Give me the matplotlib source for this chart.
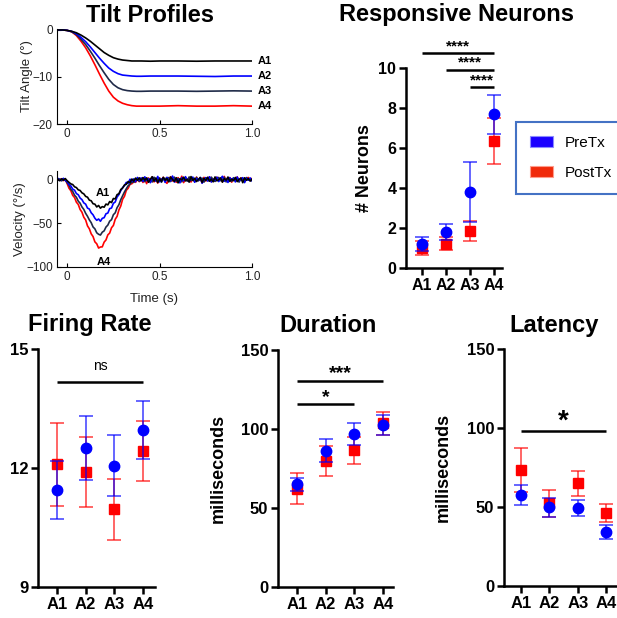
import matplotlib.pyplot as plt
from matplotlib.patches import Patch
import numpy as np

plt.rcParams['font.family'] = 'Liberation Sans'

W, H = 617, 618
fig = plt.figure(figsize=(W / 100, H / 100), dpi=100)
fig.patch.set_facecolor('white')

BLUE = '#0000ff'
RED = '#ff0000'
NAVY = '#1f2a48'

# ---------------- data ----------------
# tilt profiles (deg) sampled at tilt_t (s)
tilt_t = [-0.05, -0.025, 0.0, 0.025, 0.05, 0.075, 0.1, 0.125, 0.15, 0.175, 0.2,
          0.225, 0.25, 0.275, 0.3, 0.325, 0.35, 0.375, 0.4, 0.45, 0.5, 0.6,
          0.7, 0.8, 0.9, 1.0]
tilt_a1 = [0, 0, -0.1, -0.3, -0.6, -1.1, -1.7, -2.4, -3.2, -4.0, -4.8, -5.4, -5.9,
           -6.2, -6.4, -6.5, -6.6, -6.6, -6.6, -6.65, -6.6, -6.6, -6.65, -6.6, -6.6, -6.6]
tilt_a2 = [0, 0, -0.1, -0.3, -0.8, -1.6, -2.5, -3.6, -4.8, -6.0, -7.1, -8.1, -8.8,
           -9.3, -9.6, -9.7, -9.8, -9.85, -9.85, -9.8, -9.8, -9.8, -9.85, -9.9, -9.8, -9.8]
tilt_a3 = [0, 0, -0.1, -0.4, -1.0, -2.0, -3.1, -4.5, -6.0, -7.6, -9.1, -10.5, -11.6,
           -12.3, -12.7, -12.9, -13.0, -13.05, -13.05, -13.0, -13.0, -13.0, -13.05, -13.0, -12.95, -13.0]
tilt_a4 = [0, 0, -0.1, -0.4, -1.2, -2.4, -3.8, -5.5, -7.4, -9.4, -11.3, -13.0, -14.3,
           -15.1, -15.6, -15.9, -16.1, -16.2, -16.2, -16.2, -16.2, -16.1, -16.2, -16.2, -16.1, -16.2]

# velocity traces (deg/s), one sample every 10 ms from -0.05 s to 1.00 s
vel_t = np.linspace(-0.05, 1.0, 106)
vel_a1 = [0.5, -1.1, 0.9, -0.4, 1.3,
          -1.2, -3.0, -4.8, -5.5, -8.1, -9.0, -11.6, -12.3, -15.0, -16.2,
          -19.1, -20.0, -23.4, -24.1, -27.5, -28.0, -31.2, -29.5, -32.6, -30.8,
          -31.5, -27.9, -28.8, -25.0, -26.2, -21.5, -22.0, -17.1, -16.0, -11.2,
          -9.5, -6.0, -5.2, -2.1, -3.4, 0.8, -1.6, 1.9, -0.7, 2.2,
          -1.2, 2.5, -0.4, 1.8, -2.9, 0.6, 3.4, -1.5, 2.0, -3.2,
          0.9, -1.8, 2.7, -0.6, 1.4, -2.5, 3.0, 0.2, -1.9, 2.3,
          -3.6, 1.1, -0.2, 2.9, -1.4, 0.5, -2.7, 3.6, -0.8, 1.7,
          -2.1, 0.3, 2.4, -3.0, 1.5, -0.9, 2.8, -1.7, 0.7, -2.4,
          3.2, -1.3, 0.1, 2.0, -2.8, 1.2, -0.5, 3.1, -1.9, 0.8,
          -1.1, 2.6, -2.2, 0.4, 1.9, -3.4, 2.2, -0.7, 1.3, -1.6,
          0.6]
vel_a2 = [1.4, -0.8, 0.2, 1.6, -0.9,
          -2.0, -5.5, -7.1, -10.8, -12.0, -15.9, -17.2, -21.0, -22.8, -26.5,
          -28.0, -32.5, -33.6, -37.9, -40.2, -44.1, -46.5, -45.0, -47.6, -44.2,
          -43.5, -39.0, -38.2, -33.1, -32.4, -27.0, -25.5, -19.8, -17.0, -12.5,
          -9.1, -6.8, -3.0, -4.1, 0.6, -1.9, 1.0, -2.3, 2.6, -0.5,
          2.1, -2.0, 3.3, -0.9, 1.0, -3.4, 2.6, 0.3, -1.6, 3.8,
          -2.4, 0.7, 1.9, -3.0, 2.8, -0.5, -1.2, 4.2, -2.7, 1.1,
          0.2, -3.6, 2.4, -1.3, 3.5, -0.1, -2.2, 1.6, 3.0, -2.9,
          1.3, -0.8, 2.7, -4.0, 0.9, 2.0, -1.5, 3.4, -2.6, 0.4,
          -0.9, 2.9, -2.1, 1.4, 3.9, -1.8, 0.6, -3.1, 2.3, -0.4,
          1.7, -2.5, 3.1, -1.0, 0.5, 2.4, -3.3, 1.8, -0.6, 2.1,
          -1.3]
vel_a3 = [-0.6, 1.0, -1.3, 0.5, -0.2,
          -3.5, -6.2, -11.0, -13.4, -17.8, -20.1, -24.6, -26.9, -31.2, -34.0,
          -38.5, -41.9, -46.0, -49.2, -54.1, -56.3, -60.8, -62.5, -63.4, -60.1,
          -58.6, -54.2, -52.0, -47.5, -45.8, -40.1, -37.9, -32.0, -28.6, -22.9,
          -18.4, -14.0, -10.3, -6.9, -5.0, -2.4, -3.1, -0.6, 1.2, -1.8,
          -0.7, 1.6, -2.3, 2.2, -0.2, 1.1, -2.6, 2.9, -1.1, 0.4,
          2.0, -2.9, 0.6, 1.7, -1.0, 2.5, -2.1, 0.9, 3.0, -1.6,
          1.4, -0.6, -2.4, 2.1, 0.8, -1.7, 3.2, -0.9, 1.0, -2.3,
          2.6, -1.2, 0.3, 1.9, -2.8, 2.4, -0.4, -1.4, 3.0, 0.1,
          -2.0, 1.5, 2.6, -1.1, -0.3, 2.8, -2.5, 1.2, 0.5, -1.8,
          2.3, -0.8, 1.6, -2.7, 0.9, 1.3, -1.9, 2.5, -0.2, 1.1,
          -0.9]
vel_a4 = [0.8, -0.5, 1.2, -1.0, 0.3,
          -4.5, -9.8, -12.6, -17.9, -20.4, -25.8, -28.3, -34.1, -37.2, -43.0,
          -46.1, -52.9, -56.2, -62.0, -65.1, -71.2, -73.4, -78.3, -77.1, -76.9,
          -71.5, -69.0, -63.2, -61.1, -55.0, -52.4, -45.3, -42.0, -34.6, -30.1,
          -22.4, -19.0, -12.1, -9.8, -5.2, -4.6, -1.8, -3.0, 0.5, -2.2,
          1.5, -3.1, 0.8, -4.5, 2.0, -1.2, 3.1, -2.5, 0.4, -3.8,
          1.9, -0.7, 2.8, -2.0, -4.2, 1.1, 3.5, -1.5, 0.6, -2.9,
          2.4, -1.0, 4.0, -3.3, 0.9, -0.4, 2.2, -2.6, 1.3, -1.9,
          3.0, -0.8, 1.6, -3.5, 2.7, -1.4, 0.2, 3.3, -2.2, 1.0,
          -1.6, 2.9, -0.3, 1.8, -2.4, 3.8, -1.1, 0.7, 2.5, -2.8,
          1.2, -0.6, 3.2, -1.7, 2.1, 0.4, -2.0, 1.5, 2.6, -0.9,
          1.4]

groups = ['A1', 'A2', 'A3', 'A4']

neur_pre = [1.18, 1.8, 3.8, 7.68]
neur_pre_sem = [0.35, 0.38, 1.52, 0.98]
neur_post = [1.0, 1.22, 1.87, 6.35]
neur_post_sem = [0.36, 0.33, 0.5, 1.17]

rate_pre = [11.44, 12.51, 12.06, 12.96]
rate_pre_sem = [0.73, 0.81, 0.77, 0.73]
rate_post = [12.09, 11.89, 10.96, 12.43]
rate_post_sem = [1.04, 0.88, 0.77, 0.76]

dur_pre = [65.1, 86.2, 96.6, 102.5]
dur_pre_sem = [4.2, 7.2, 6.9, 6.3]
dur_post = [62.3, 79.9, 86.6, 103.5]
dur_post_sem = [9.7, 9.4, 8.6, 7.5]

lat_pre = [57.4, 49.8, 49.6, 34.4]
lat_pre_sem = [6.3, 5.9, 5.1, 4.5]
lat_post = [73.4, 52.3, 64.9, 46.0]
lat_post_sem = [14.1, 8.5, 8.1, 5.7]


def px_axes(l, t, r, b):
    return fig.add_axes([l / W, 1 - b / H, (r - l) / W, (b - t) / H])


def trace_style(ax):
    for s in ['top', 'right']:
        ax.spines[s].set_visible(False)
    for s in ['left', 'bottom']:
        ax.spines[s].set_linewidth(0.8)
    ax.tick_params(direction='in', length=3, width=0.8, labelsize=8.5,
                   labelcolor='#222222', pad=3)
    ax.set_xlim(-0.055, 1.0)
    ax.set_xticks([0, 0.5, 1.0])
    ax.set_xticklabels(['0', '0.5', '1.0'])


# ---------------- tilt profiles ----------------
ax = px_axes(57, 29, 252, 124)
trace_style(ax)
for y, c in [(tilt_a4, RED), (tilt_a3, NAVY), (tilt_a2, BLUE), (tilt_a1, 'k')]:
    ax.plot(tilt_t, y, color=c, lw=1.2)
for y, lab in [(tilt_a1, 'A1'), (tilt_a2, 'A2'), (tilt_a3, 'A3'), (tilt_a4, 'A4')]:
    ax.text(1.03, y[-1], lab, fontsize=8, fontweight='bold', va='center',
            ha='left', clip_on=False)
ax.set_ylim(-20, 0.2)
ax.set_yticks([-20, -10, 0])
ax.set_ylabel('Tilt Angle (°)', fontsize=9.5, color='#222222')
ax.yaxis.set_label_coords(-0.125, 0.5)
fig.text(150 / W, 1 - 16 / H, 'Tilt Profiles', fontsize=17, fontweight='bold',
         ha='center', va='center')

# ---------------- velocity ----------------
ax = px_axes(57, 171, 252, 267)
trace_style(ax)
for y, c in [(vel_a4, RED), (vel_a3, NAVY), (vel_a2, BLUE), (vel_a1, 'k')]:
    ax.plot(vel_t, y, color=c, lw=1.2)
ax.set_ylim(-100, 10)
ax.set_yticks([-100, -50, 0])
ax.text(0.19, -15, 'A1', fontsize=8, fontweight='bold', ha='center', va='center')
ax.text(0.2, -94, 'A4', fontsize=8, fontweight='bold', ha='center', va='center')
ax.set_ylabel('Velocity (°/s)', fontsize=9.5, color='#222222')
ax.yaxis.set_label_coords(-0.16, 0.5)
ax.set_xlabel('Time (s)', fontsize=9.5, color='#222222', labelpad=7)


# ---------------- dot panels ----------------
def dot_panel(box, xlim, pre, pre_sem, post, post_sem, ylim, yticks, ylabel,
              title, title_xy, tick_fs=12, lpad=4):
    ax = px_axes(*box)
    x = np.arange(1, 5)
    ax.errorbar(x, post, yerr=post_sem, fmt='s', color=RED, ms=6.5,
                ecolor=(1, 0, 0, 0.7), elinewidth=1.2, capsize=5, capthick=1.2,
                zorder=3)
    ax.errorbar(x, pre, yerr=pre_sem, fmt='o', color=BLUE, ms=7.5,
                ecolor=(0, 0, 1, 0.7), elinewidth=1.2, capsize=5, capthick=1.2,
                zorder=4)
    for s in ['top', 'right']:
        ax.spines[s].set_visible(False)
    for s in ['left', 'bottom']:
        ax.spines[s].set_linewidth(1.8)
    ax.set_xlim(*xlim)
    ax.set_ylim(*ylim)
    ax.set_yticks(yticks)
    ax.set_xticks(x)
    ax.set_xticklabels(groups)
    ax.tick_params(direction='out', length=5, width=1.8, labelsize=tick_fs, pad=2)
    for lab in ax.get_xticklabels() + ax.get_yticklabels():
        lab.set_fontweight('bold')
    if ylabel:
        ax.set_ylabel(ylabel, fontsize=13, fontweight='bold', labelpad=lpad)
    fig.text(title_xy[0] / W, 1 - title_xy[1] / H, title, fontsize=17,
             fontweight='bold', ha='center', va='center')
    return ax


def sig_bar(ax, x1, x2, y, txt, ty, fs, bold=True):
    ax.plot([x1, x2], [y, y], color='k', lw=1.8, clip_on=False,
            solid_capstyle='butt')
    ax.text((x1 + x2) / 2, ty, txt, ha='center', va='center', fontsize=fs,
            fontweight='bold' if bold else 'normal', clip_on=False)


# Responsive neurons
ax = dot_panel((406, 68, 502, 268), (0.33, 4.33), neur_pre, neur_pre_sem,
               neur_post, neur_post_sem, (0, 10), [0, 2, 4, 6, 8, 10],
               '# Neurons', 'Responsive Neurons', (457, 15), tick_fs=11.5)
sig_bar(ax, 1, 4, 10.75, '****', 11.1, 11)
sig_bar(ax, 2, 4, 9.92, '****', 10.27, 11)
sig_bar(ax, 3, 4, 9.03, '****', 9.38, 11)

# Firing rate
ax = dot_panel((38, 349, 155, 587), (0.337, 4.42), rate_pre, rate_pre_sem,
               rate_post, rate_post_sem, (9, 15), [9, 12, 15], None,
               'Firing Rate', (90, 324))
sig_bar(ax, 1, 4, 14.18, 'ns', 14.56, 10, bold=False)

# Duration
ax = dot_panel((278, 350, 393, 587), (0.337, 4.35), dur_pre, dur_pre_sem,
               dur_post, dur_post_sem, (0, 150), [0, 50, 100, 150],
               'milliseconds', 'Duration', (328, 326), lpad=10)
sig_bar(ax, 1, 4, 130.4, '***', 135.0, 14)
sig_bar(ax, 1, 3, 115.6, '*', 120.2, 14)

# Latency
ax = dot_panel((504, 349, 616, 586), (0.4, 4.35), lat_pre, lat_pre_sem,
               lat_post, lat_post_sem, (0, 150), [0, 50, 100, 150],
               'milliseconds', 'Latency', (554, 326), lpad=11)
sig_bar(ax, 1, 4, 98.3, '*', 104.0, 20)

# legend
handles = [Patch(facecolor='#1a00ff', edgecolor='#8c8cff', lw=0.8),
           Patch(facecolor='#f02a0a', edgecolor='#ff9c8c', lw=0.8)]
leg = fig.legend(handles, ['PreTx', 'PostTx'], loc='upper left',
                 bbox_to_anchor=(516 / W, 1 - 122 / H), fontsize=11,
                 frameon=True, fancybox=False, edgecolor='#4472c4',
                 framealpha=1, handlelength=1.5, handleheight=0.75,
                 handletextpad=0.8, labelspacing=1.05, borderpad=0.9,
                 borderaxespad=0)
leg.get_frame().set_linewidth(1.5)

fig.savefig('out.png', dpi=100)
